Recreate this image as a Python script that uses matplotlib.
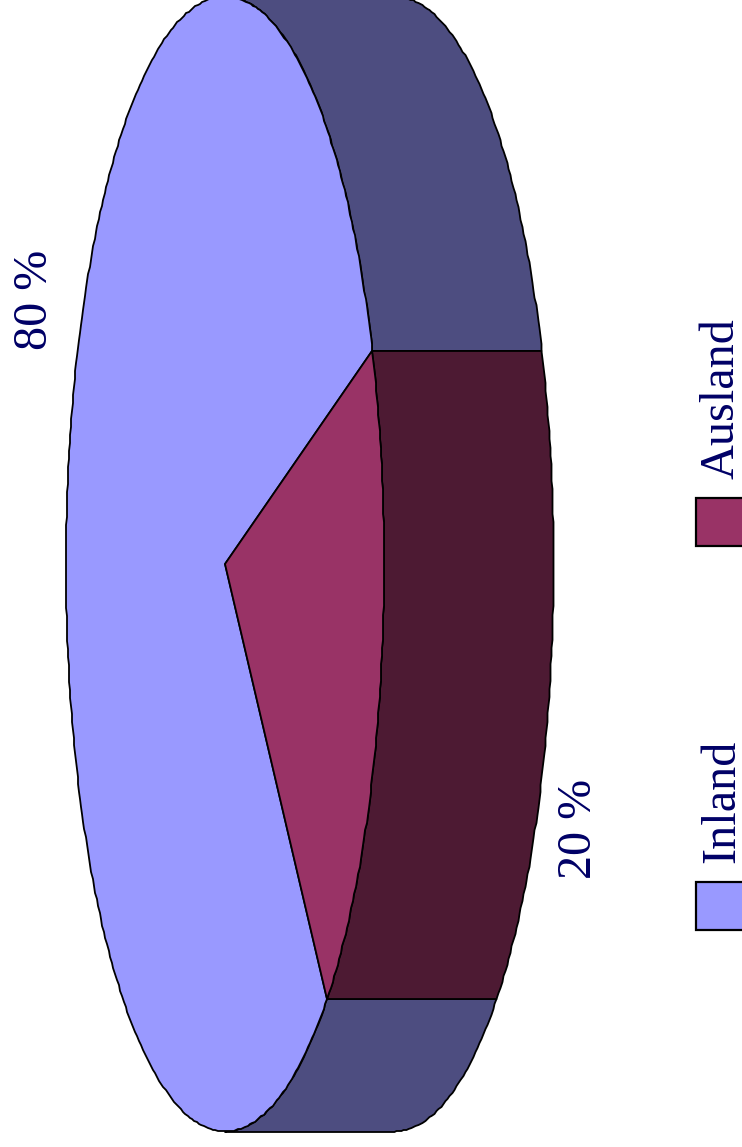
import numpy as np
import matplotlib
matplotlib.use("Agg")
import matplotlib.pyplot as plt
from matplotlib.patches import Polygon, Rectangle

categories = ["Inland", "Ausland"]
shares = [80, 20]
share_labels = ["80 %", "20 %"]
top_colors = ["#9999FF", "#993366"]
side_colors = ["#4D4D80", "#4D1A33"]
text_color = "#000066"

W, H = 742, 1147
fig = plt.figure(figsize=(W / 100, H / 100), dpi=100, facecolor="white")
ax = fig.add_axes([0, 0, 1, 1])
ax.set_xlim(0, W)
ax.set_ylim(H, 0)
ax.axis("off")

# Pie geometry: tilted disc turned on its side, with the rim extruded to the right
cx, cy = 225.0, 564.0
rx, ry = 159.0, 567.5
depth = 169.5
start = -22.0  # degrees, where the smaller slice begins


def rim(a0, a1):
    # Coarse outline snapped to whole pixels, which gives the rim its slight ripple
    n = max(int(abs(a1 - a0) * 1.2), 8)
    t = np.radians(np.linspace(a0, a1, n))
    return np.round(np.column_stack([cx + rx * np.cos(t), cy + ry * np.sin(t)]))


# Angular span of the smaller slice
span_small = 360.0 * shares[1] / sum(shares)
end = start + span_small

EDGE = dict(edgecolor="black", linewidth=1.3, joinstyle="round")

# Rim of Inland: visible on both sides of the smaller slice
for a0, a1 in [(-90, start), (end, 90)]:
    pts = rim(a0, a1)
    off = pts + [depth, 0]
    ax.add_patch(Polygon(np.vstack([pts, off[::-1]]), closed=True,
                         facecolor=side_colors[0], zorder=1, **EDGE))

# Rim of Ausland
pts = rim(start, end)
off = pts + [depth, 0]
ax.add_patch(Polygon(np.vstack([pts, off[::-1]]), closed=True,
                     facecolor=side_colors[1], zorder=2, **EDGE))

# Top faces
centre = np.array([[cx, cy]])
ax.add_patch(Polygon(np.vstack([centre, rim(end, start + 360)]), closed=True,
                     facecolor=top_colors[0], zorder=3, **EDGE))
ax.add_patch(Polygon(np.vstack([centre, rim(start, end)]), closed=True,
                     facecolor=top_colors[1], zorder=3, **EDGE))

# Value labels and legend, all turned a quarter turn
font = dict(family="Liberation Serif", color=text_color, rotation=90,
            ha="center", va="center", fontsize=34.7)
ax.text(35, 300, share_labels[0], zorder=5, **font)
ax.text(579, 829, share_labels[1], zorder=5, **font)

for name, color, box_y, text_y in zip(categories, top_colors, [882, 498], [801, 398.5]):
    ax.add_patch(Rectangle((696, box_y), 80, 48, facecolor=color,
                           edgecolor="black", linewidth=1.6, zorder=4))
    ax.text(722, text_y, name, zorder=5, **font)

fig.savefig("out.png", dpi=100, facecolor="white")
